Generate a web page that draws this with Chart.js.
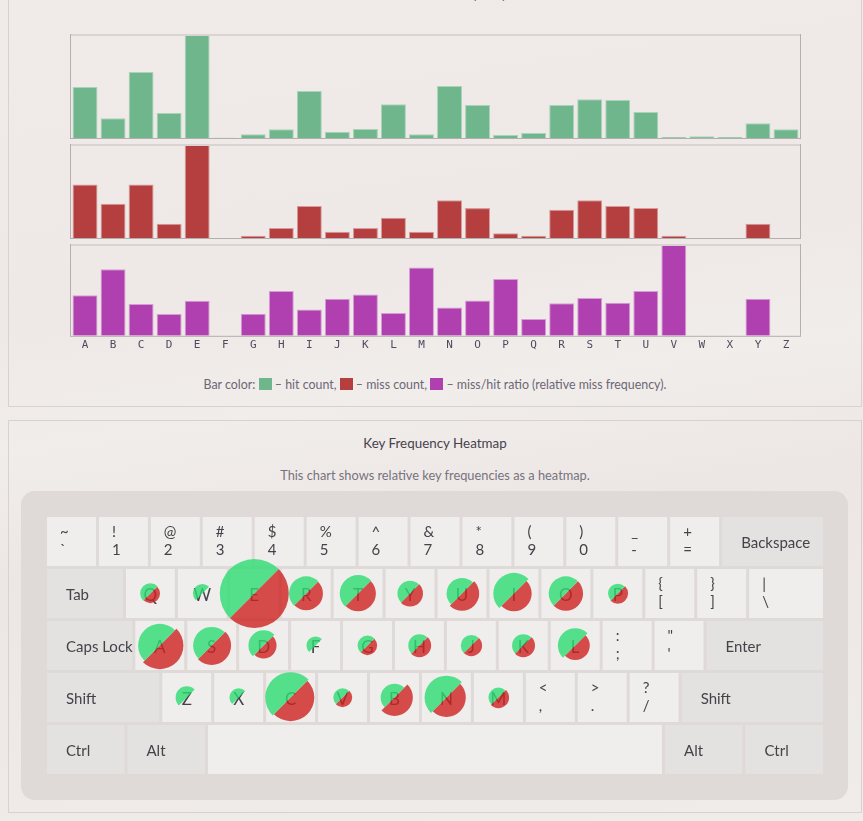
<!DOCTYPE html>
<html>
<head>
<meta charset="utf-8">
<script src="https://cdn.jsdelivr.net/npm/chart.js@4.4.1/dist/chart.umd.min.js"></script>
<style>
  html, body { margin: 0; padding: 0; }
  body {
    width: 863px; height: 821px; overflow: hidden; position: relative;
    font-family: Lato, "Open Sans", sans-serif;
    background: linear-gradient(172deg, #f0ebe9 0%, #eee9e7 35%, #f1edeb 48%, #ece7e5 62%, #f0ecea 100%);
  }
  .panel { position: absolute; left: 8px; width: 854px; box-sizing: border-box; border: 1px solid #d7d1cf; }
  .abs { position: absolute; }
  .legend { left: 0; width: 870px; top: 377px; text-align: center; font-size: 12.4px; color: #6c6774; }
  .sq { display: inline-block; width: 13px; height: 12px; vertical-align: -1px; }
  .title { left: 0; width: 870px; top: 435px; text-align: center; font-size: 13.4px; color: #46424c; }
  .sub { left: 0; width: 870px; top: 467px; text-align: center; font-size: 12.8px; color: #77727d; }
  .kbd { left: 21px; top: 491px; width: 827px; height: 309px; border-radius: 14px; background: #dfd9d8; }
  canvas { position: absolute; }
</style>
</head>
<body>
<div class="panel" style="top:-10px;height:417px;"></div>
<div class="panel" style="top:420px;height:393px;"></div>
<div class="abs" style="left:0;width:506px;top:-15px;text-align:right;font-size:14px;color:#46424c;">Letter Statistics (A–Z)</div>

<canvas id="hitChart" width="731" height="105" style="left:70px;top:34px;"></canvas>
<canvas id="missChart" width="731" height="95" style="left:70px;top:144px;"></canvas>
<canvas id="ratioChart" width="731" height="111" style="left:70px;top:244px;"></canvas>

<div class="abs legend">Bar color: <span class="sq" style="background:#70b68d"></span> – hit count, <span class="sq" style="background:#b53e3e"></span> – miss count, <span class="sq" style="background:#b040b0"></span> – miss/hit ratio (relative miss frequency).</div>

<div class="abs title">Key Frequency Heatmap</div>
<div class="abs sub">This chart shows relative key frequencies as a heatmap.</div>

<div class="abs kbd"></div>
<canvas id="keyboard" width="827" height="309" style="left:21px;top:491px;"></canvas>

<script>
const letters = ['A','B','C','D','E','F','G','H','I','J','K','L','M','N','O','P','Q','R','S','T','U','V','W','X','Y','Z'];
const hitCounts = [153, 59, 198, 75, 309, 1, 11, 26, 141, 19, 27, 101, 11, 156, 99, 9, 15, 99, 116, 114, 78, 3, 5, 3, 44, 26];
const missCounts = [161, 103, 161, 43, 280, 0, 7, 30, 96, 19, 30, 61, 19, 114, 90, 14, 7, 85, 114, 96, 90, 7, 0, 0, 43, 0];
const missRatio = [1.16, 1.90, 0.91, 0.62, 1.00, 0, 0.63, 1.28, 0.75, 1.06, 1.18, 0.65, 1.95, 0.81, 1.01, 1.62, 0.48, 0.93, 1.08, 0.94, 1.28, 2.59, 0, 0, 1.06, 0];

// keyboard rows: [label, width in key units, modifier?]
const row1 = [['~\n`',1],['!\n1',1],['@\n2',1],['#\n3',1],['$\n4',1],['%\n5',1],['^\n6',1],['&\n7',1],['*\n8',1],['(\n9',1],[')\n0',1],['_\n-',1],['+\n=',1],['Backspace',2,true]];
const row2 = [['Tab',1.52,true],['Q',1],['W',1],['E',1],['R',1],['T',1],['Y',1],['U',1],['I',1],['O',1],['P',1],['{\n[',1],['}\n]',1],['|\n\\',1.48]];
const row3 = [['Caps Lock',1.7,true],['A',1],['S',1],['D',1],['F',1],['G',1],['H',1],['J',1],['K',1],['L',1],[':\n;',1],['"\n\'',1],['Enter',2.3,true]];
const row4 = [['Shift',2.22,true],['Z',1],['X',1],['C',1],['V',1],['B',1],['N',1],['M',1],['<\n,',1],['>\n.',1],['?\n/',1],['Shift',2.78,true]];
const row5 = [['Ctrl',1.55,true],['Alt',1.55,true],['',8.8],['Alt',1.55,true],['Ctrl',1.55,true]];
const keyRows = [row1, row2, row3, row4, row5];

const frame = {
  id: 'frame',
  afterDatasetsDraw(chart) {
    const { ctx, chartArea: a } = chart;
    ctx.save();
    ctx.fillStyle = '#d9d4d2';
    ctx.fillRect(a.left, a.top - 1, a.right - a.left, 2);
    ctx.fillStyle = '#b4afaf';
    ctx.fillRect(a.left - 1, a.top - 1, 1, a.bottom - a.top + 1);
    ctx.fillRect(a.right, a.top - 1, 1, a.bottom - a.top + 1);
    ctx.fillRect(a.left - 1, a.bottom, a.right - a.left + 2, 1);
    ctx.restore();
  }
};

function barChart(id, values, fill, border, showX) {
  new Chart(document.getElementById(id), {
    type: 'bar',
    data: {
      labels: letters,
      datasets: [{ data: values, backgroundColor: fill, borderColor: border, borderWidth: 1, barPercentage: 0.89, categoryPercentage: 1 }]
    },
    options: {
      responsive: false, animation: false, events: [],
      layout: { padding: { left: 1, right: 1, top: 1, bottom: showX ? 0 : 1 } },
      plugins: { legend: { display: false }, tooltip: { enabled: false } },
      scales: {
        x: {
          display: showX,
          grid: { display: false, drawTicks: false },
          border: { display: false },
          ticks: { font: { family: 'DejaVu Sans Mono', size: 11 }, color: '#4f4b5e', padding: 3, maxRotation: 0, autoSkip: false }
        },
        y: { display: false, min: 0, max: Math.max(...values) }
      }
    },
    plugins: [frame]
  });
}

barChart('hitChart', hitCounts, '#70b68d', '#a9d4b9', false);
barChart('missChart', missCounts, '#b53e3e', '#d69c9c', false);
barChart('ratioChart', missRatio, '#b040b0', '#d69cd6', true);

// bubble positions come from the key layout, radius from the counts
const keyPos = {};
keyRows.forEach((row, r) => {
  let x = 0;
  row.forEach(k => { keyPos[k[0]] = { x: x + k[1] / 2, y: r + 0.5 }; x += k[1]; });
});
const maxHit = Math.max(...hitCounts), maxMiss = Math.max(...missCounts);
const radius = (v, max) => v > 0 ? 9 + 25.5 * v / max : 0;

const keyDraw = {
  id: 'keyDraw',
  beforeDatasetsDraw(chart) {
    const { ctx, scales: { x: xs, y: ys } } = chart;
    ctx.save();
    keyRows.forEach((row, r) => {
      let u = 0;
      const y0 = ys.getPixelForValue(r) + 1.5, y1 = ys.getPixelForValue(r + 1) - 1.5;
      row.forEach(([label, w, mod]) => {
        const x0 = xs.getPixelForValue(u) + 1.5, x1 = xs.getPixelForValue(u + w) - 1.5;
        u += w;
        ctx.fillStyle = mod ? '#e3e2e0' : '#efeeec';
        ctx.fillRect(x0, y0, x1 - x0, y1 - y0);
        ctx.fillStyle = '#454249';
        ctx.textBaseline = 'middle';
        if (mod) {
          ctx.font = '15px Lato';
          ctx.textAlign = 'left';
          ctx.fillText(label, x0 + 19, (y0 + y1) / 2 + 2);
        } else if (label.includes('\n')) {
          const [top, bottom] = label.split('\n');
          ctx.font = '15px Lato';
          ctx.textAlign = 'left';
          ctx.fillText(top, x0 + 13, y0 + 15);
          ctx.fillText(bottom, x0 + 13, y0 + 33);
        } else if (label) {
          ctx.font = '17px Lato';
          ctx.textAlign = 'center';
          ctx.fillText(label, (x0 + x1) / 2, (y0 + y1) / 2 + 2);
        }
      });
    });
    ctx.restore();
  },
  beforeDatasetDraw(chart, args) {
    const ctx = chart.ctx;
    const start = args.index === 0 ? Math.PI * 0.75 : -Math.PI * 0.25;
    ctx.save();
    args.meta.data.forEach(el => {
      const r = el.options.radius;
      if (!r) return;
      ctx.beginPath();
      ctx.moveTo(el.x, el.y);
      ctx.arc(el.x, el.y, r, start, start + Math.PI);
      ctx.closePath();
      ctx.fillStyle = el.options.backgroundColor;
      ctx.fill();
    });
    ctx.restore();
    return false;
  }
};

new Chart(document.getElementById('keyboard'), {
  type: 'bubble',
  data: {
    datasets: [
      { label: 'hit', data: letters.map((l, i) => ({ x: keyPos[l].x, y: keyPos[l].y, r: radius(hitCounts[i], maxHit) })), backgroundColor: 'rgba(45,220,115,0.8)' },
      { label: 'miss', data: letters.map((l, i) => ({ x: keyPos[l].x, y: keyPos[l].y, r: radius(missCounts[i], maxMiss) })), backgroundColor: 'rgba(205,34,34,0.8)' }
    ]
  },
  options: {
    responsive: false, animation: false, events: [],
    layout: { autoPadding: false, padding: { left: 24.5, right: 23.5, top: 24.5, bottom: 24.5 } },
    plugins: { legend: { display: false }, tooltip: { enabled: false } },
    scales: {
      x: { type: 'linear', min: 0, max: 15, display: false },
      y: { type: 'linear', min: 0, max: 5, reverse: true, display: false }
    }
  },
  plugins: [keyDraw]
});
</script>
</body>
</html>
